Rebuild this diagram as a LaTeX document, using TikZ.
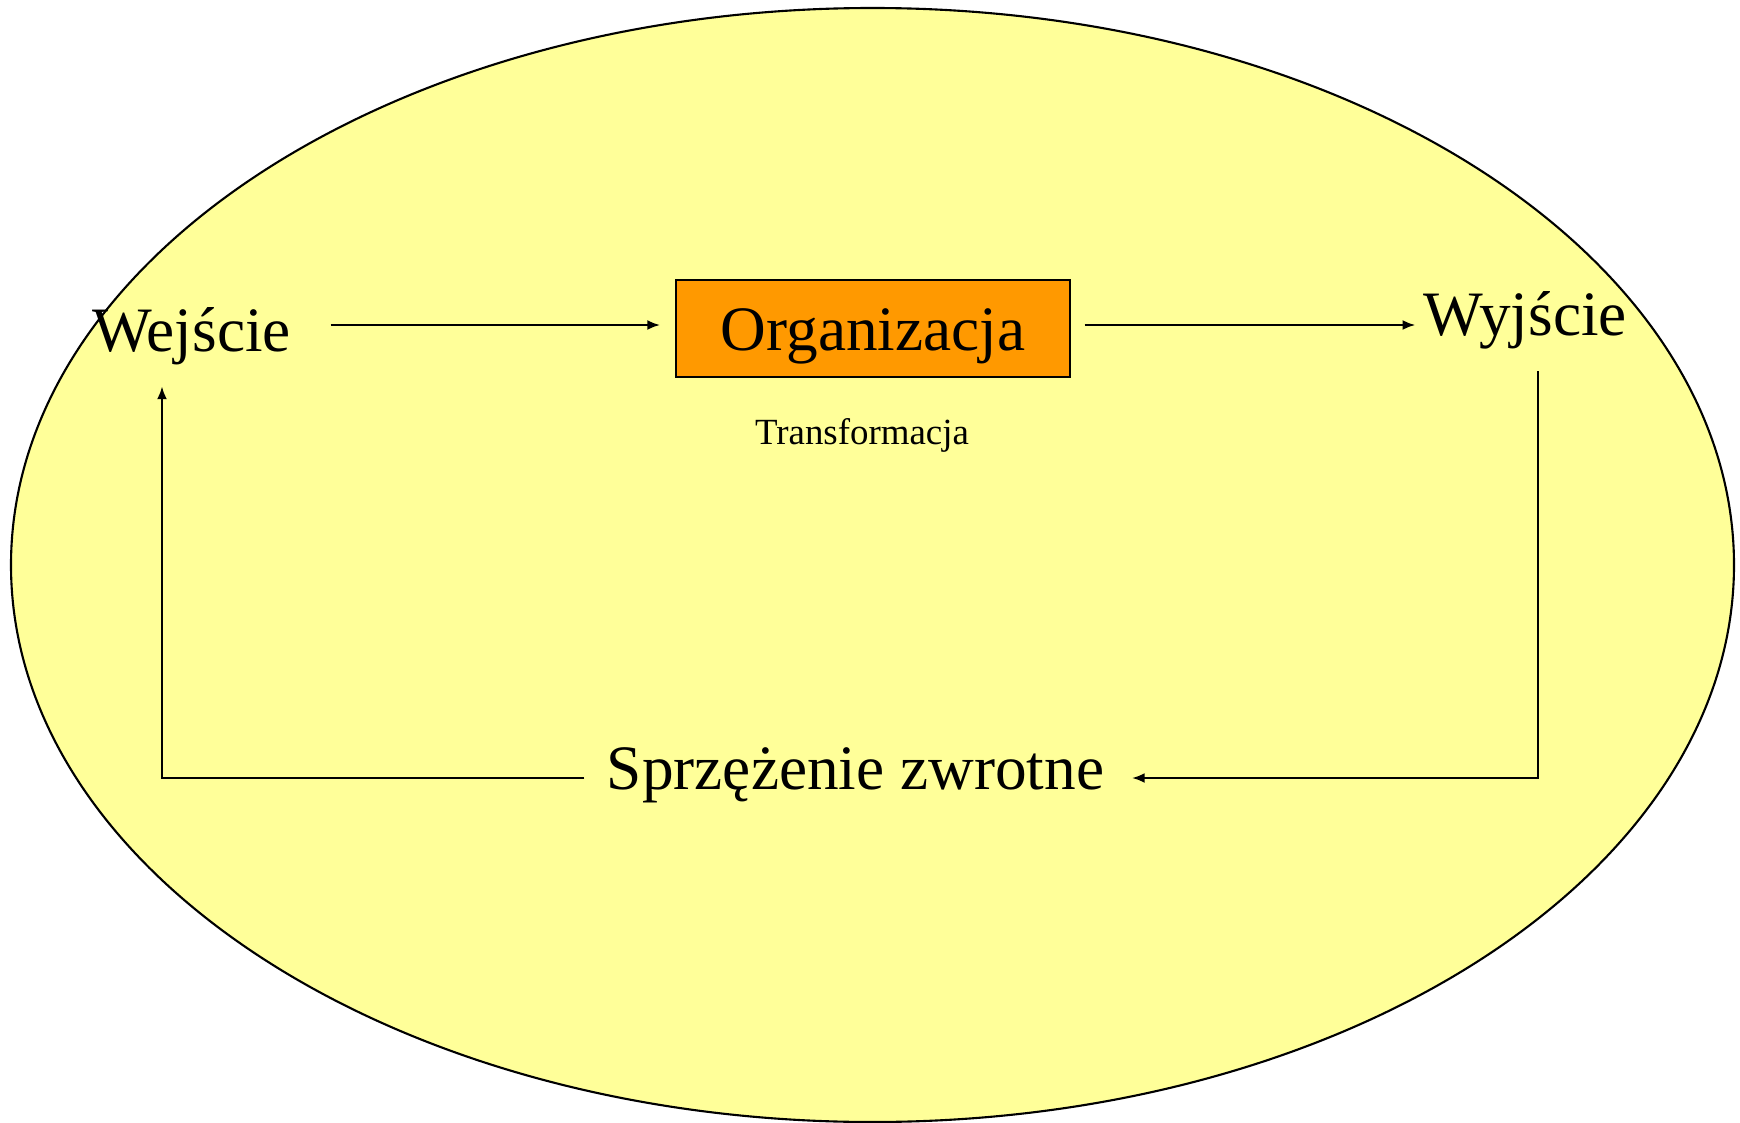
\documentclass[tikz,border=0pt]{standalone}
\usepackage{fontspec}
\setmainfont{Liberation Serif}
\usetikzlibrary{arrows.meta,calc}
\definecolor{ellyellow}{RGB}{255,255,153}
\definecolor{orgorange}{RGB}{255,153,0}

\begin{document}
\begin{tikzpicture}[scale=1,
		big/.style={inner sep=0pt,font=\fontsize{18}{21}\selectfont},
		small/.style={inner sep=0pt,font=\fontsize{10.5}{12}\selectfont},
		arr/.style={line width=0.8pt,-{Latex[length=1.3mm,width=1mm]}},
		ln/.style={line width=0.6pt}]

			\useasboundingbox (0,0) rectangle (17.4,-11.23);
			\draw[ln,fill=ellyellow] (8.725,-5.65) ellipse [x radius=8.615, y radius=5.57];

			\node[big,anchor=base] (wej) at (1.915,-3.51) {Wejście};
			\node[big,draw,fill=orgorange,minimum width=3.94cm,minimum height=0.97cm,
				text height=0.55cm,text depth=0.12cm] (org) at (8.73,-3.285) {Organizacja};
			\node[big,anchor=base] (wyj) at (15.25,-3.35) {Wyjście};
			\node[small,anchor=base] (trans) at (8.62,-4.44) {Transformacja};
			\node[big,anchor=base] (sprz) at (8.555,-7.89) {Sprzężenie zwrotne};

			\coordinate (fbR) at (15.38,-7.78);
			\coordinate (fbL) at (1.62,-7.78);

			\draw[arr,shorten <=0.39cm,shorten >=0.15cm] ([yshift=0.035cm]wej.east |- org.west) -- ([yshift=0.035cm]org.west);
			\draw[arr,shorten <=0.14cm,shorten >=0.07cm] ([yshift=0.035cm]org.east) -- ([yshift=0.035cm]org.east -| wyj.west);
			\draw[arr,shorten <=0.22cm,shorten >=0.27cm] (fbR |- wyj.south) -- (fbR) -- (fbR -| sprz.east);
			\draw[arr,shorten <=0.22cm,shorten >=0.21cm] (sprz.west |- fbL) -- (fbL) -- (fbL |- wej.south);

		\end{tikzpicture}
\end{document}
